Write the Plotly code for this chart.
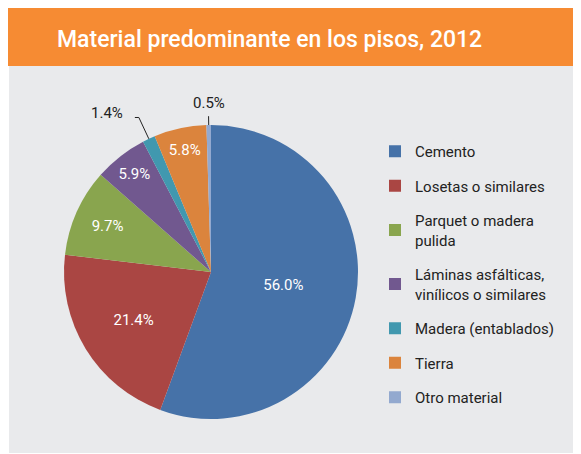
import math
import plotly.graph_objects as go

categories = ["Cemento", "Losetas o similares", "Parquet o madera<br>pulida",
              "Láminas asfálticas,<br>vinílicos o similares", "Madera (entablados)",
              "Tierra", "Otro material"]
values = [56.0, 21.4, 9.7, 5.9, 1.4, 5.8, 0.5]
colors = ["#4672A8", "#AA4643", "#89A54E", "#71588F", "#4198AF", "#DB843D", "#93A9CF"]
title = "Material predominante en los pisos, 2012"

# figure sits inside the page's 8px body margin
W, H = 573, 446
CX, CY, R = 203, 264, 147          # pie centre / radius in pixels (from top-left)
FONT = "Roboto"


def px(x):
    return x / W


def py(y):
    return 1 - y / H


small = [v < 3 for v in values]
positions = ["none" if s else "inside" for s in small]

fig = go.Figure()
fig.add_trace(go.Pie(
    values=values, labels=categories, sort=False, direction="clockwise", rotation=0,
    marker=dict(colors=colors, line=dict(width=0)),
    texttemplate="%{value:.1f}%", textinfo="text",
    textposition=positions, insidetextorientation="horizontal",
    textfont=dict(family=FONT, size=15, color="white"),
    showlegend=False, hoverinfo="skip",
    domain=dict(x=[px(CX - R), px(CX + R)], y=[py(CY + R), py(CY - R)]),
))

for c, col in zip(categories, colors):
    fig.add_trace(go.Scatter(
        x=[None], y=[None], mode="markers", name=c, legendgroup=c,
        marker=dict(symbol="square", size=12, color=col),
    ))

shapes = [
    dict(type="rect", xref="paper", yref="paper", x0=px(1), x1=1, y0=py(445), y1=py(58),
         fillcolor="#E9EAEC", line=dict(width=0), layer="below"),
    dict(type="rect", xref="paper", yref="paper", x0=0, x1=1, y0=py(58), y1=1,
         fillcolor="#F68B33", line=dict(width=0), layer="below"),
]
annotations = [dict(text=title, xref="paper", yref="paper", x=px(261), y=py(32),
                    xanchor="center", yanchor="middle", showarrow=False,
                    font=dict(family=FONT, size=23, color="white", weight=500))]

# leader lines + labels for the thin slices, placed from each slice's mid-angle
total = sum(values)
cum = 0.0
for v, s in zip(values, small):
    mid = (cum + v / 2) / total * 2 * math.pi
    cum += v
    if not s:
        continue
    sx, sy = math.sin(mid), -math.cos(mid)
    x0, y0 = CX + R * sx, CY + R * sy
    if abs(sx) > 0.1:
        x1, y1 = CX + R * 1.16 * sx, CY + R * 1.16 * sy
        x2 = x1 - 4 if sx < 0 else x1 + 4
        shapes.append(dict(type="path", xref="paper", yref="paper",
                           path=f"M {px(x0)},{py(y0)} L {px(x1)},{py(y1)} L {px(x2)},{py(y1)}",
                           line=dict(color="#222222", width=1)))
        annotations.append(dict(text=f"{v:.1f}%", xref="paper", yref="paper",
                                x=px(x2 - 10 if sx < 0 else x2 + 10), y=py(y1 - 4),
                                xanchor="right" if sx < 0 else "left", yanchor="middle",
                                showarrow=False, font=dict(family=FONT, size=15, color="#222222")))
    else:
        x1, y1 = CX + R * 1.06 * sx, CY + R * 1.06 * sy
        shapes.append(dict(type="line", xref="paper", yref="paper",
                           x0=px(x0), y0=py(y0), x1=px(x1), y1=py(y1),
                           line=dict(color="#222222", width=1)))
        annotations.append(dict(text=f"{v:.1f}%", xref="paper", yref="paper",
                                x=px(x1), y=py(y1 - 2), xanchor="center", yanchor="bottom",
                                showarrow=False, font=dict(family=FONT, size=15, color="#222222")))

fig.update_layout(
    width=W, height=H, margin=dict(l=0, r=0, t=0, b=0),
    paper_bgcolor="white", plot_bgcolor="rgba(0,0,0,0)",
    xaxis=dict(visible=False), yaxis=dict(visible=False),
    showlegend=True,
    legend=dict(x=px(367), y=py(127), xanchor="left", yanchor="top",
                font=dict(family=FONT, size=15, color="#222222"),
                tracegroupgap=12, itemwidth=30, bgcolor="rgba(0,0,0,0)"),
    shapes=shapes,
    annotations=annotations,
)

fig.write_html("out.html")
